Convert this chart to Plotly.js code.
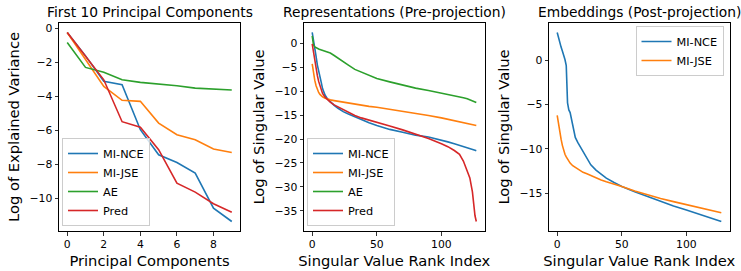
<!DOCTYPE html>
<html>
<head>
<meta charset="utf-8">
<script src="https://cdn.plot.ly/plotly-3.0.1.min.js"></script>
<style>html,body{margin:0;padding:0;background:#fff;}#chart{width:741px;height:271px;}</style>
</head>
<body>
<div id="chart"></div>
<script>
// ---- Panel 1: First 10 Principal Components ----
const pcX = [0, 1, 2, 3, 4, 5, 6, 7, 8, 9];
const pcMiNce = [-0.24, -1.62, -3.12, -3.32, -5.97, -7.45, -7.90, -8.53, -10.59, -11.38];
const pcMiJse = [-0.24, -1.83, -3.42, -4.24, -4.30, -5.58, -6.27, -6.56, -7.11, -7.31];
const pcAe    = [-0.83, -2.30, -2.59, -3.03, -3.18, -3.26, -3.38, -3.52, -3.56, -3.63];
const pcPred  = [-0.24, -1.65, -3.03, -5.50, -5.82, -7.15, -9.12, -9.65, -10.33, -10.83];

// ---- Panel 2: Representations (Pre-projection) ----
const preX = [0,1,2,3,4,5,6,7,8,10,12,14,17,20,24,28,33,38,44,50,60,70,80,90,100,105,110,114,117,120,122,124,125,126,127];
const preMiNce = [2.2,0.8,-0.9,-2.8,-4.6,-5.6,-6.8,-8.2,-9.5,-10.9,-11.7,-12.3,-13.0,-13.6,-14.3,-14.8,-15.4,-15.9,-16.6,-17.2,-18.0,-18.6,-19.2,-19.6,-20.2,-20.6,-21.0,-21.3,-21.6,-21.85,-22.0,-22.15,-22.25,-22.35,-22.45];
const preMiJse = [-4.36,-6.5,-7.8,-8.9,-9.7,-10.3,-10.7,-11.0,-11.2,-11.5,-11.7,-11.85,-12.0,-12.15,-12.35,-12.55,-12.75,-12.95,-13.2,-13.4,-13.8,-14.2,-14.6,-15.1,-15.6,-15.9,-16.15,-16.4,-16.6,-16.8,-16.9,-17.0,-17.1,-17.15,-17.2];
const preAe    = [1.5,-0.4,-0.8,-1.0,-1.15,-1.25,-1.35,-1.45,-1.55,-1.7,-1.9,-2.1,-2.6,-3.1,-3.9,-4.6,-5.5,-6.1,-6.8,-7.4,-8.1,-8.8,-9.4,-9.9,-10.4,-10.65,-10.9,-11.2,-11.4,-11.6,-11.8,-12.0,-12.1,-12.25,-12.4];
const prePred  = [-0.2,-2.0,-3.9,-5.2,-6.8,-8.0,-9.0,-9.8,-10.5,-11.3,-11.9,-12.3,-12.9,-13.3,-14.0,-14.5,-15.1,-15.6,-16.1,-16.6,-17.3,-18.1,-19.0,-19.9,-21.0,-21.6,-22.4,-23.2,-24.6,-26.8,-28.1,-31.0,-34.3,-36.0,-37.2];

// ---- Panel 3: Embeddings (Post-projection) ----
const postX = [0,1,2,3,4,5,6,7,8,9,10,12,14,16,18,20,23,26,30,34,38,44,50,60,70,80,90,100,110,120,127];
const postMiNce = [3.15,2.5,1.9,1.5,1.05,0.6,0.1,-0.6,-4.8,-5.6,-5.9,-7.3,-8.7,-9.3,-9.8,-10.4,-11.2,-11.8,-12.4,-12.9,-13.3,-13.8,-14.25,-14.85,-15.4,-15.95,-16.45,-16.9,-17.35,-17.8,-18.2];
const postMiJse = [-6.2,-7.3,-8.2,-8.9,-9.6,-10.2,-10.6,-10.9,-11.15,-11.4,-11.6,-11.9,-12.1,-12.3,-12.5,-12.65,-12.8,-13.0,-13.3,-13.5,-13.7,-13.95,-14.25,-14.75,-15.2,-15.6,-15.95,-16.3,-16.65,-16.95,-17.2];

const seriesNames = ['MI-NCE', 'MI-JSE', 'AE', 'Pred'];
const colors = ['#1f77b4', '#ff7f0e', '#2ca02c', '#d62728'];
const panelTitles = ['First 10 Principal Components', 'Representations (Pre-projection)', 'Embeddings (Post-projection)'];
const xTitles = ['Principal Components', 'Singular Value Rank Index', 'Singular Value Rank Index'];
const yTitles = ['Log of Explained Variance', 'Log of Singular Value', 'Log of Singular Value'];

const FONT = 'DejaVu Sans, sans-serif';
const W = 741, H = 271;
const px = v => v / W;
const py = v => 1 - v / H;

function mk(x, y, i, xa, ya, leg) {
  return {x: x, y: y, type: 'scatter', mode: 'lines', name: seriesNames[i],
    line: {color: colors[i], width: 1.6}, xaxis: xa, yaxis: ya, legend: leg};
}

const traces = [
  mk(pcX, pcMiNce, 0, 'x', 'y', 'legend'),
  mk(pcX, pcMiJse, 1, 'x', 'y', 'legend'),
  mk(pcX, pcAe, 2, 'x', 'y', 'legend'),
  mk(pcX, pcPred, 3, 'x', 'y', 'legend'),
  mk(preX, preMiNce, 0, 'x2', 'y2', 'legend2'),
  mk(preX, preMiJse, 1, 'x2', 'y2', 'legend2'),
  mk(preX, preAe, 2, 'x2', 'y2', 'legend2'),
  mk(preX, prePred, 3, 'x2', 'y2', 'legend2'),
  mk(postX, postMiNce, 0, 'x3', 'y3', 'legend3'),
  mk(postX, postMiJse, 1, 'x3', 'y3', 'legend3')
];

const domX = [[px(59), px(240)], [px(304), px(484.5)], [px(549), px(729.5)]];
const domY = [py(231), py(23)];

function xax(i, range, dtick) {
  return {domain: domX[i], anchor: i === 0 ? 'y' : 'y' + (i + 1), range: range, dtick: dtick, tick0: 0,
    showgrid: false, zeroline: false, showline: true, mirror: true, linecolor: '#000', linewidth: 1,
    ticks: 'outside', ticklen: 3.5, tickwidth: 0.8, tickcolor: '#000',
    tickfont: {family: FONT, size: 10.8, color: '#000'},
    title: {text: xTitles[i], font: {family: FONT, size: 14.7, color: '#000'}, standoff: 5}};
}
function yax(i, range, dtick) {
  return {domain: domY, anchor: i === 0 ? 'x' : 'x' + (i + 1), range: range, dtick: dtick, tick0: 0,
    showgrid: false, zeroline: false, showline: true, mirror: true, linecolor: '#000', linewidth: 1,
    ticks: 'outside', ticklen: 3.5, tickwidth: 0.8, tickcolor: '#000',
    tickfont: {family: FONT, size: 10.8, color: '#000'},
    title: {text: yTitles[i], font: {family: FONT, size: 14.7, color: '#000'}, standoff: 6}};
}

function legendCfg(x, y, xanchor, yanchor) {
  return {x: x, y: y, xanchor: xanchor, yanchor: yanchor, xref: 'paper', yref: 'paper',
    bgcolor: 'rgba(255,255,255,0.8)', bordercolor: '#cccccc', borderwidth: 1,
    font: {family: FONT, size: 11.3, color: '#000'}, itemwidth: 30, tracegroupgap: 0};
}

const annotations = panelTitles.map((t, i) => ({
  text: t, xref: 'paper', yref: 'paper', x: (domX[i][0] + domX[i][1]) / 2, y: py(12),
  xanchor: 'center', yanchor: 'middle', showarrow: false,
  font: {family: FONT, size: 13.8, color: '#000'}
}));

const layout = {
  width: W, height: H, margin: {l: 0, r: 0, t: 0, b: 0},
  paper_bgcolor: '#fff', plot_bgcolor: '#fff',
  font: {family: FONT, color: '#000'},
  xaxis: xax(0, [-0.45, 9.45], 2),
  yaxis: yax(0, [-11.94, 0.317], 2),
  xaxis2: xax(1, [-6.35, 133.35], 50),
  yaxis2: yax(1, [-39.17, 4.17], 5),
  xaxis3: xax(2, [-6.35, 133.35], 50),
  yaxis3: yax(2, [-19.27, 4.22], 5),
  legend: legendCfg(px(62), py(226), 'left', 'bottom'),
  legend2: legendCfg(px(307), py(226), 'left', 'bottom'),
  legend3: legendCfg(px(723.5), py(26), 'right', 'top'),
  annotations: annotations,
  showlegend: true
};

Plotly.newPlot('chart', traces, layout, {displayModeBar: false, staticPlot: true});
</script>
</body>
</html>
